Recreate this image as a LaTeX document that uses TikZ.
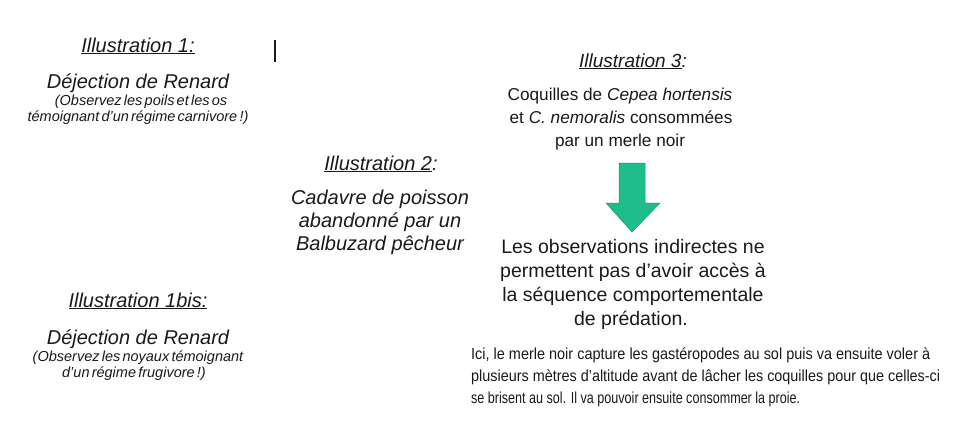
\documentclass[tikz,border=0pt]{standalone}
\usepackage{fontspec}
\usepackage{graphicx}
\setmainfont{Liberation Sans}
\newfontfamily\tightfont[WordSpace=0.55]{Liberation Sans}
\definecolor{txt}{HTML}{1A1A1A}
\definecolor{arrowgreen}{RGB}{30,190,140}
\definecolor{arrowedge}{RGB}{22,150,110}
\tikzset{
  big/.style={inner sep=0pt, anchor=base, text=txt, font=\fontsize{20}{24}\selectfont\itshape},
  small/.style={inner sep=0pt, anchor=base, text=txt, font=\fontsize{14.5}{17}\tightfont\itshape},
  mid/.style={inner sep=0pt, anchor=base, text=txt, font=\fontsize{17.2}{21}\selectfont},
  obs/.style={inner sep=0pt, anchor=base, text=txt, font=\fontsize{19.5}{23}\selectfont},
  para/.style={inner sep=0pt, anchor=base west, text=txt, font=\fontsize{16}{20}\selectfont},
}
\begin{document}
\begin{tikzpicture}[x=1pt,y=-1pt]
\useasboundingbox[fill=white] (0,0) rectangle (974,437);
% Illustration 1
\node[big] (il1) at (138,52) {\underline{Illustration 1:}};
\node[big] (dej1) at (138,88) {Déjection de Renard};
\node[small] (obs1a) at (141,105) {(Observez les poils et les os};
\node[small] (obs1b) at (138,121) {témoignant d’un régime carnivore !)};
% cursor mark
\draw[line width=1.2pt, txt] (275,40) -- (275,62);
% Illustration 1bis
\node[big] (il1b) at (138,307) {\underline{Illustration 1bis:}};
\node[big] (dej1b) at (138,344) {Déjection de Renard};
\node[small] (obs1ba) at (138,361) {(Observez les noyaux témoignant};
\node[small] (obs1bb) at (134,377) {d’un régime frugivore !)};
% Illustration 2
\node[big] (il2) at (381,170) {\underline{Illustration 2}:};
\node[big] (cad1) at (380,204) {Cadavre de poisson};
\node[big] (cad2) at (380,227) {abandonné par un};
\node[big] (cad3) at (380,250) {Balbuzard pêcheur};
% Illustration 3
\node[big, font=\fontsize{19}{23}\selectfont\itshape] (il3) at (633,67) {\underline{Illustration 3}:};
\node[mid] (coq1) at (620,100) {Coquilles de \textit{Cepea hortensis}};
\node[mid] (coq2) at (621,123) {et \textit{C. nemoralis} consommées};
\node[mid] (coq3) at (620,146) {par un merle noir};
\draw[fill=arrowgreen, draw=arrowedge, line width=0.5pt]
  (619,163) -- (645,163) -- (645,203) -- (660,203) -- (632,232) -- (606,203) -- (619,203) -- cycle;
\node[obs] (les1) at (633,253) {Les observations indirectes ne};
\node[obs] (les2) at (633,277) {permettent pas d’avoir accès à};
\node[obs] (les3) at (633,301) {la séquence comportementale};
\node[obs] (les4) at (631,325) {de prédation.};
\node[para] (p1) at (471,359) {\resizebox{459pt}{\height}{Ici, le merle noir capture les gastéropodes au sol puis va ensuite voler à}};
\node[para] (p2) at (471,381) {\resizebox{469pt}{\height}{plusieurs mètres d’altitude avant de lâcher les coquilles pour que celles-ci}};
\node[para] (p3) at (471,403) {\resizebox{329pt}{\height}{se brisent au sol. Il va pouvoir ensuite consommer la proie.}};
\end{tikzpicture}
\end{document}
